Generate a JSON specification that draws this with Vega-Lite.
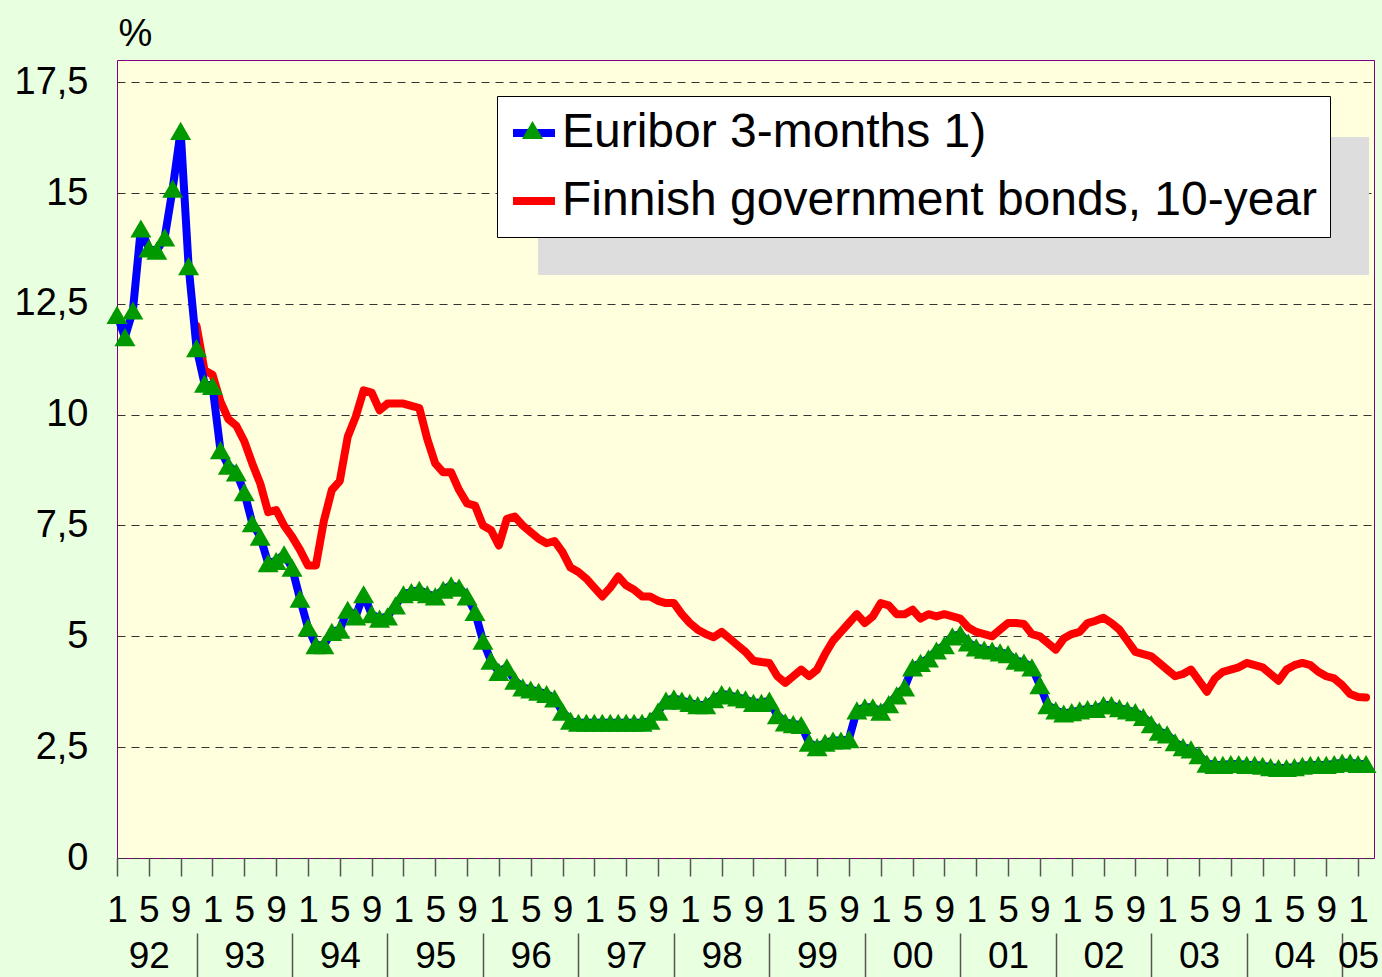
{
"$schema": "https://vega.github.io/schema/vega-lite/v6.json",
"width": 1257, "height": 798,
"autosize": {"type": "none"},
"padding": {"left": 117, "top": 60, "right": 8, "bottom": 119},
"background": "#E8FFE0",
"view": {"fill": "#FFFFDD", "stroke": "#800080", "strokeWidth": 1},
"config": {"view": {"fill": "#FFFFDD", "stroke": "#800080", "strokeWidth": 1}, "font": "Liberation Sans"},
"data": {"values": [
{"i":0,"euribor":12.25,"bond":null},{"i":1,"euribor":11.75,"bond":null},{"i":2,"euribor":12.35,"bond":null},{"i":3,"euribor":14.2,"bond":null},{"i":4,"euribor":13.75,"bond":null},{"i":5,"euribor":13.7,"bond":null},{"i":6,"euribor":14.0,"bond":null},{"i":7,"euribor":15.1,"bond":null},{"i":8,"euribor":16.4,"bond":null},{"i":9,"euribor":13.35,"bond":null},{"i":10,"euribor":11.5,"bond":12.0},{"i":11,"euribor":10.7,"bond":11.0},
{"i":12,"euribor":10.65,"bond":10.9},{"i":13,"euribor":9.2,"bond":10.3},{"i":14,"euribor":8.85,"bond":9.9},{"i":15,"euribor":8.7,"bond":9.75},{"i":16,"euribor":8.25,"bond":9.4},{"i":17,"euribor":7.55,"bond":8.9},{"i":18,"euribor":7.25,"bond":8.45},{"i":19,"euribor":6.65,"bond":7.8},{"i":20,"euribor":6.7,"bond":7.85},{"i":21,"euribor":6.85,"bond":7.5},{"i":22,"euribor":6.55,"bond":7.25},{"i":23,"euribor":5.85,"bond":6.95},
{"i":24,"euribor":5.2,"bond":6.6},{"i":25,"euribor":4.8,"bond":6.6},{"i":26,"euribor":4.8,"bond":7.6},{"i":27,"euribor":5.1,"bond":8.3},{"i":28,"euribor":5.15,"bond":8.5},{"i":29,"euribor":5.6,"bond":9.5},{"i":30,"euribor":5.45,"bond":9.95},{"i":31,"euribor":5.95,"bond":10.55},{"i":32,"euribor":5.5,"bond":10.5},{"i":33,"euribor":5.4,"bond":10.1},{"i":34,"euribor":5.45,"bond":10.25},{"i":35,"euribor":5.7,"bond":10.25},
{"i":36,"euribor":5.95,"bond":10.25},{"i":37,"euribor":6.0,"bond":10.2},{"i":38,"euribor":6.05,"bond":10.15},{"i":39,"euribor":5.95,"bond":9.45},{"i":40,"euribor":5.9,"bond":8.9},{"i":41,"euribor":6.05,"bond":8.7},{"i":42,"euribor":6.15,"bond":8.7},{"i":43,"euribor":6.1,"bond":8.3},{"i":44,"euribor":5.9,"bond":8.0},{"i":45,"euribor":5.55,"bond":7.95},{"i":46,"euribor":4.9,"bond":7.5},{"i":47,"euribor":4.45,"bond":7.4},
{"i":48,"euribor":4.2,"bond":7.05},{"i":49,"euribor":4.3,"bond":7.65},{"i":50,"euribor":4.0,"bond":7.7},{"i":51,"euribor":3.85,"bond":7.5},{"i":52,"euribor":3.8,"bond":7.35},{"i":53,"euribor":3.75,"bond":7.2},{"i":54,"euribor":3.7,"bond":7.1},{"i":55,"euribor":3.6,"bond":7.15},{"i":56,"euribor":3.3,"bond":6.9},{"i":57,"euribor":3.1,"bond":6.55},{"i":58,"euribor":3.05,"bond":6.45},{"i":59,"euribor":3.05,"bond":6.3},
{"i":60,"euribor":3.05,"bond":6.1},{"i":61,"euribor":3.05,"bond":5.9},{"i":62,"euribor":3.05,"bond":6.1},{"i":63,"euribor":3.05,"bond":6.35},{"i":64,"euribor":3.05,"bond":6.15},{"i":65,"euribor":3.05,"bond":6.05},{"i":66,"euribor":3.05,"bond":5.9},{"i":67,"euribor":3.1,"bond":5.9},{"i":68,"euribor":3.3,"bond":5.8},{"i":69,"euribor":3.55,"bond":5.75},{"i":70,"euribor":3.6,"bond":5.75},{"i":71,"euribor":3.55,"bond":5.5},
{"i":72,"euribor":3.5,"bond":5.3},{"i":73,"euribor":3.45,"bond":5.15},{"i":74,"euribor":3.45,"bond":5.05},{"i":75,"euribor":3.58,"bond":4.98},{"i":76,"euribor":3.7,"bond":5.1},{"i":77,"euribor":3.67,"bond":4.95},{"i":78,"euribor":3.62,"bond":4.8},{"i":79,"euribor":3.58,"bond":4.65},{"i":80,"euribor":3.5,"bond":4.45},{"i":81,"euribor":3.5,"bond":4.42},{"i":82,"euribor":3.55,"bond":4.4},{"i":83,"euribor":3.22,"bond":4.1},
{"i":84,"euribor":3.06,"bond":3.95},{"i":85,"euribor":3.02,"bond":4.1},{"i":86,"euribor":3.0,"bond":4.25},{"i":87,"euribor":2.6,"bond":4.1},{"i":88,"euribor":2.5,"bond":4.25},{"i":89,"euribor":2.6,"bond":4.6},{"i":90,"euribor":2.65,"bond":4.9},{"i":91,"euribor":2.65,"bond":5.1},{"i":92,"euribor":2.68,"bond":5.3},{"i":93,"euribor":3.33,"bond":5.5},{"i":94,"euribor":3.4,"bond":5.3},{"i":95,"euribor":3.4,"bond":5.45},
{"i":96,"euribor":3.3,"bond":5.75},{"i":97,"euribor":3.47,"bond":5.7},{"i":98,"euribor":3.67,"bond":5.5},{"i":99,"euribor":3.85,"bond":5.5},{"i":100,"euribor":4.3,"bond":5.6},{"i":101,"euribor":4.4,"bond":5.4},{"i":102,"euribor":4.5,"bond":5.5},{"i":103,"euribor":4.68,"bond":5.45},{"i":104,"euribor":4.8,"bond":5.5},{"i":105,"euribor":5.0,"bond":5.45},{"i":106,"euribor":5.05,"bond":5.4},{"i":107,"euribor":4.86,"bond":5.2},
{"i":108,"euribor":4.75,"bond":5.1},{"i":109,"euribor":4.7,"bond":5.05},{"i":110,"euribor":4.68,"bond":5.0},{"i":111,"euribor":4.64,"bond":5.15},{"i":112,"euribor":4.6,"bond":5.3},{"i":113,"euribor":4.45,"bond":5.3},{"i":114,"euribor":4.41,"bond":5.28},{"i":115,"euribor":4.3,"bond":5.05},{"i":116,"euribor":3.9,"bond":5.0},{"i":117,"euribor":3.45,"bond":4.85},{"i":118,"euribor":3.33,"bond":4.7},{"i":119,"euribor":3.26,"bond":4.95},
{"i":120,"euribor":3.29,"bond":5.05},{"i":121,"euribor":3.33,"bond":5.1},{"i":122,"euribor":3.36,"bond":5.3},{"i":123,"euribor":3.36,"bond":5.35},{"i":124,"euribor":3.45,"bond":5.42},{"i":125,"euribor":3.45,"bond":5.3},{"i":126,"euribor":3.38,"bond":5.15},{"i":127,"euribor":3.33,"bond":4.9},{"i":128,"euribor":3.29,"bond":4.65},{"i":129,"euribor":3.18,"bond":4.6},{"i":130,"euribor":3.02,"bond":4.55},{"i":131,"euribor":2.85,"bond":4.4},
{"i":132,"euribor":2.79,"bond":4.25},{"i":133,"euribor":2.61,"bond":4.1},{"i":134,"euribor":2.5,"bond":4.15},{"i":135,"euribor":2.45,"bond":4.25},{"i":136,"euribor":2.32,"bond":4.0},{"i":137,"euribor":2.13,"bond":3.75},{"i":138,"euribor":2.1,"bond":4.05},{"i":139,"euribor":2.1,"bond":4.2},{"i":140,"euribor":2.12,"bond":4.25},{"i":141,"euribor":2.12,"bond":4.3},{"i":142,"euribor":2.1,"bond":4.4},{"i":143,"euribor":2.1,"bond":4.35},
{"i":144,"euribor":2.08,"bond":4.3},{"i":145,"euribor":2.05,"bond":4.15},{"i":146,"euribor":2.03,"bond":4.0},{"i":147,"euribor":2.03,"bond":4.25},{"i":148,"euribor":2.05,"bond":4.35},{"i":149,"euribor":2.08,"bond":4.4},{"i":150,"euribor":2.1,"bond":4.35},{"i":151,"euribor":2.1,"bond":4.2},{"i":152,"euribor":2.1,"bond":4.1},{"i":153,"euribor":2.12,"bond":4.05},{"i":154,"euribor":2.15,"bond":3.9},{"i":155,"euribor":2.15,"bond":3.7},
{"i":156,"euribor":2.12,"bond":3.63},{"i":157,"euribor":2.12,"bond":3.62}
]},
"layer": [
{
"mark": {"type": "line", "color": "#FF0000", "strokeWidth": 8, "strokeCap": "round", "strokeJoin": "round"},
"encoding": {
"x": {"field": "i", "type": "quantitative", "scale": {"domain": [0, 158], "nice": false, "zero": false},
 "axis": {"orient": "bottom", "values": [10,22,34,46,58,70,82,94,106,118,130,142,154], "labels": false, "title": null, "domain": false, "grid": false, "ticks": true, "tickSize": 50, "tickColor": "#555555", "tickWidth": 1.5, "offset": 75}},
"y": {"field": "bond", "type": "quantitative", "scale": {"domain": [0, 18], "nice": false, "zero": true},
 "axis": {"values": [0,2.5,5,7.5,10,12.5,15,17.5], "labelExpr": "replace(format(datum.value, '.1~f'), '.', ',')", "title": "%", "titleAngle": 0, "titleFontSize": 38, "titleFontWeight": "normal", "titleFont": "Liberation Sans", "titleColor": "black", "titleAlign": "center", "titleBaseline": "alphabetic", "titleX": 18, "titleY": -15, "domain": false, "ticks": false, "tickSize": 0, "grid": true, "gridDash": [8, 6], "gridColor": "#333333", "gridWidth": 1, "labelFontSize": 38, "labelFont": "Liberation Sans", "labelPadding": 29, "labelColor": "black"}},
"stroke": {"datum": "Finnish government bonds, 10-year", "type": "nominal",
 "scale": {"domain": ["Euribor 3-months 1)", "Finnish government bonds, 10-year"], "range": ["#0000FF", "#FF0000"]},
 "legend": {"title": null, "orient": "none", "legendX": 380, "legendY": 36, "fillColor": "white", "strokeColor": "black", "padding": 12, "rowPadding": 19, "symbolType": "stroke", "symbolSize": 1764, "symbolStrokeWidth": 8, "labelFontSize": 48, "labelFont": "Liberation Sans", "labelColor": "black", "labelLimit": 1000, "labelOffset": 3, "zindex": 2}}
}
},
{
"mark": {"type": "line", "color": "#0000FF", "strokeWidth": 8, "strokeCap": "round", "strokeJoin": "round"},
"encoding": {
"x": {"field": "i", "type": "quantitative", "scale": {"domain": [0, 158], "nice": false, "zero": false},
 "axis": {"orient": "bottom", "values": [0,4,8,12,16,20,24,28,32,36,40,44,48,52,56,60,64,68,72,76,80,84,88,92,96,100,104,108,112,116,120,124,128,132,136,140,144,148,152,156],
  "labelExpr": "datum.value == 156 ? ['1', '05'] : (datum.value % 12 == 4 ? ['5', slice('0' + ((92 + floor(datum.value / 12)) % 100), -2)] : (datum.value % 12 == 0 ? '1' : '9'))",
  "title": null, "domain": false, "grid": false, "ticks": true, "tickSize": 18, "tickColor": "#555555", "tickWidth": 1.5, "labelFontSize": 37, "labelFont": "Liberation Sans", "labelColor": "black", "labelPadding": 16, "labelLineHeight": 46, "labelOverlap": false, "labelFlush": false, "labelBound": false}},
"y": {"field": "euribor", "type": "quantitative", "scale": {"domain": [0, 18], "nice": false}, "axis": {"title": "%"}},
"stroke": {"datum": "Euribor 3-months 1)", "type": "nominal"}
}
},
{
"mark": {"type": "point", "shape": "triangle-up", "filled": true, "color": "#009900", "opacity": 1, "size": 440},
"encoding": {
"x": {"field": "i", "type": "quantitative", "scale": {"domain": [0, 158], "nice": false, "zero": false}, "axis": null},
"y": {"field": "euribor", "type": "quantitative", "scale": {"domain": [0, 18], "nice": false}, "axis": {"title": "%"}},
"shape": {"datum": "Euribor 3-months 1)", "type": "nominal", "scale": {"domain": ["Euribor 3-months 1)"], "range": ["triangle-up"]},
 "legend": {"title": null, "orient": "none", "legendX": 393, "legendY": 47.5, "padding": 12, "symbolSize": 440, "symbolFillColor": "#009900", "symbolStrokeWidth": 0, "symbolOpacity": 1, "labelExpr": "''", "labelFontSize": 1, "labelColor": "transparent", "zindex": 3}}
}
},
{
"data": {"values": []},
"mark": {"type": "point", "filled": true, "color": "#DDDDDD", "opacity": 1},
"encoding": {
"x": {"field": "i", "type": "quantitative", "scale": {"domain": [0, 158], "nice": false, "zero": false}, "axis": null},
"y": {"field": "euribor", "type": "quantitative", "scale": {"domain": [0, 18], "nice": false}, "axis": {"title": "%"}},
"size": {"datum": "shadow", "type": "nominal", "scale": {"type": "point", "domain": ["shadow"], "range": [440, 440]},
 "legend": {"title": null, "orient": "none", "legendX": 826, "legendY": 135.5, "padding": 0, "symbolType": "M-39.62,-6.58L39.62,-6.58L39.62,6.58L-39.62,6.58Z", "symbolFillColor": "#DDDDDD", "symbolStrokeWidth": 0, "symbolOpacity": 1, "labelExpr": "''", "labelFontSize": 1, "zindex": 1}}
}
}
],
"resolve": {"axis": {"x": "independent"}}
}
